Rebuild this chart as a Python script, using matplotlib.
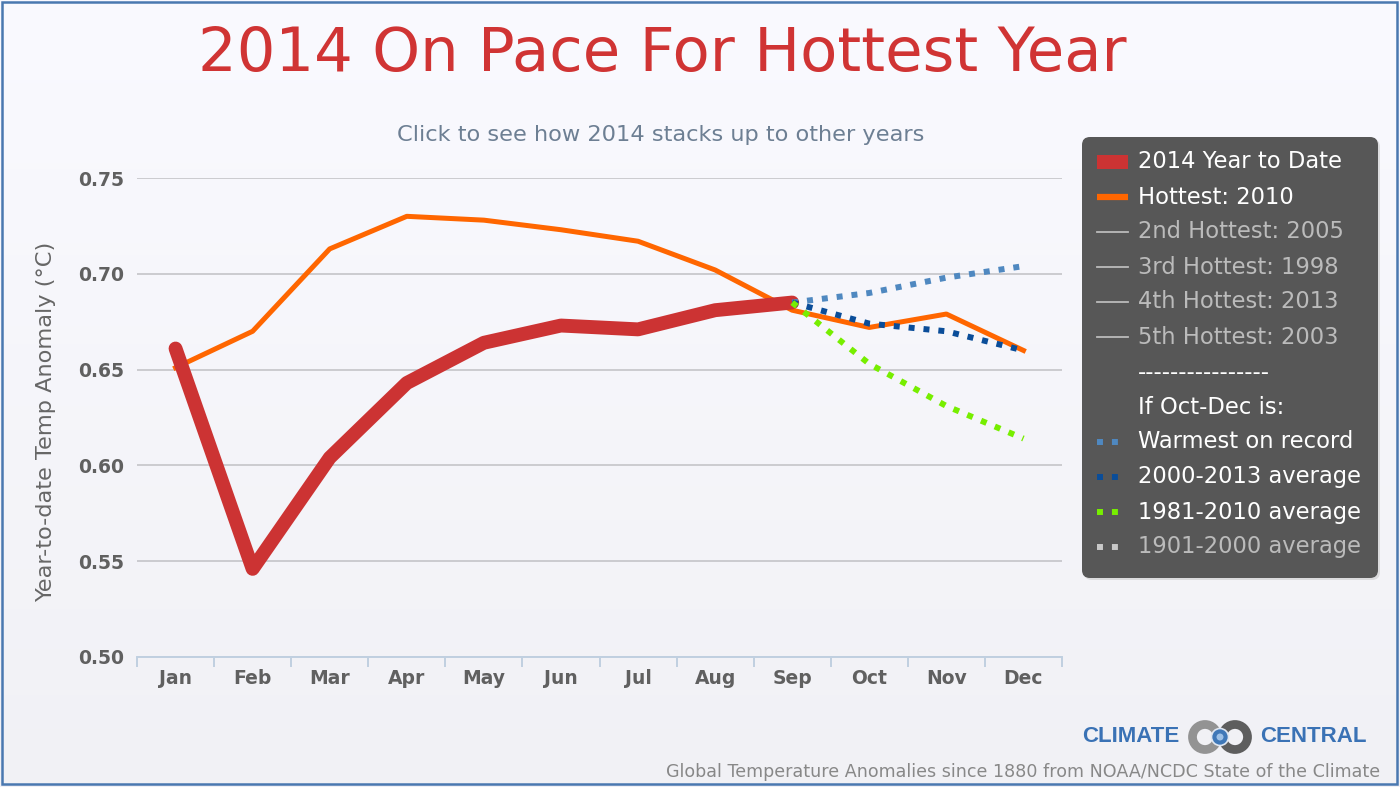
import numpy as np
import matplotlib.pyplot as plt
from matplotlib.patches import FancyBboxPatch, Rectangle, Circle

months = ['Jan', 'Feb', 'Mar', 'Apr', 'May', 'Jun', 'Jul', 'Aug', 'Sep', 'Oct', 'Nov', 'Dec']
ytd_2014 = [0.661, 0.546, 0.604, 0.643, 0.664, 0.673, 0.671, 0.681, 0.685]
hottest_2010 = [0.651, 0.670, 0.713, 0.730, 0.728, 0.723, 0.717, 0.702, 0.681, 0.672, 0.679, 0.660]
# projections Sep-Dec
proj_months = ['Sep', 'Oct', 'Nov', 'Dec']
warmest_record = [0.685, 0.690, 0.698, 0.704]
avg_2000_2013 = [0.685, 0.674, 0.670, 0.660]
avg_1981_2010 = [0.685, 0.653, 0.631, 0.614]

legend_labels = ['2014 Year to Date', 'Hottest: 2010', '2nd Hottest: 2005', '3rd Hottest: 1998',
                 '4th Hottest: 2013', '5th Hottest: 2003', '----------------', 'If Oct-Dec is:',
                 'Warmest on record', '2000-2013 average', '1981-2010 average', '1901-2000 average']

RED = '#cc3333'
ORANGE = '#ff6600'
LIGHTBLUE = '#4f88c0'
DARKBLUE = '#0a4d99'
GREEN = '#77ee00'
GREY = '#bbbbbb'
DOTS = (0, (1, 1.5))

fig = plt.figure(figsize=(14, 7.87), dpi=100)

# background gradient
bg = fig.add_axes([0, 0, 1, 1], zorder=0)
grad = np.linspace(0, 1, 256).reshape(-1, 1)
top = np.array([0.980, 0.980, 1.0])
bot = np.array([0.945, 0.945, 0.962])
img = top + (bot - top) * grad[..., None]
bg.imshow(img.reshape(256, 1, 3), aspect='auto', extent=[0, 1, 0, 1])
bg.axis('off')

W, H = 1400, 787
ax = fig.add_axes([137 / W, 1 - 657 / H, 925 / W, 479 / H], zorder=1)
ax.patch.set_alpha(0)

x = np.arange(len(months))
idx = {m: i for i, m in enumerate(months)}
px = [idx[m] for m in proj_months]

ax.plot(x, hottest_2010, color=ORANGE, lw=3.6, solid_joinstyle='round', zorder=3)
ax.plot(x[:len(ytd_2014)], ytd_2014, color=RED, lw=10, solid_capstyle='round',
        solid_joinstyle='round', zorder=4)
ax.plot(px, warmest_record, color=LIGHTBLUE, lw=4.3, ls=DOTS, zorder=5)
ax.plot(px, avg_2000_2013, color=DARKBLUE, lw=4.3, ls=DOTS, zorder=5)
ax.plot(px, avg_1981_2010, color=GREEN, lw=4.3, ls=DOTS, zorder=5)

ax.set_xlim(-0.5, 11.5)
ax.set_ylim(0.5, 0.75)
ax.set_yticks([0.50, 0.55, 0.60, 0.65, 0.70, 0.75])
ax.set_yticklabels(['%.2f' % v for v in [0.50, 0.55, 0.60, 0.65, 0.70, 0.75]])
ax.set_xticks(x)
ax.set_xticklabels(months)
ax.set_xticks(np.arange(-0.5, 12, 1), minor=True)
ax.grid(axis='y', color='#c4c4c8', lw=1.2)
ax.set_axisbelow(True)
for s in ['left', 'top', 'right']:
    ax.spines[s].set_visible(False)
ax.spines['bottom'].set_color('#c0d0e0')
ax.spines['bottom'].set_linewidth(1.4)
ax.tick_params(axis='y', length=0, pad=9, labelsize=13.5, labelcolor='#606060')
ax.tick_params(axis='x', which='major', length=0, pad=9, labelsize=13.5, labelcolor='#606060')
ax.tick_params(axis='x', which='minor', length=7, width=1.4, color='#c0d0e0')
for lab in ax.get_xticklabels() + ax.get_yticklabels():
    lab.set_fontweight('bold')
ax.set_ylabel('Year-to-date Temp Anomaly (°C)', fontsize=16.2, color='#666666')
ax.yaxis.set_label_coords(-0.087, 0.49)

# overlay in pixel coordinates
ov = fig.add_axes([0, 0, 1, 1], zorder=2)
ov.set_xlim(0, W)
ov.set_ylim(H, 0)
ov.axis('off')
ov.patch.set_alpha(0)

ov.text(662, 55, '2014 On Pace For Hottest Year', color='#d03434', fontsize=43.8,
        ha='center', va='center')
ov.text(661, 135, 'Click to see how 2014 stacks up to other years', color='#6d7f93',
        fontsize=16.2, ha='center', va='center')

# legend box
ov.add_patch(FancyBboxPatch((1084, 139), 296, 441, boxstyle='round,pad=0,rounding_size=8',
                            fc='#cccccc', ec='none', alpha=0.6))
ov.add_patch(FancyBboxPatch((1082, 137), 296, 441, boxstyle='round,pad=0,rounding_size=8',
                            fc='#575757', ec='none'))
rows = [162 + 35 * i for i in range(12)]
text_cols = ['#ffffff', '#ffffff', GREY, GREY, GREY, GREY, '#ffffff', '#ffffff',
             '#ffffff', '#ffffff', '#ffffff', GREY]
for lab, yy, c in zip(legend_labels, rows, text_cols):
    ov.text(1138, yy, lab, color=c, fontsize=16.3, ha='left', va='center')
ov.add_patch(Rectangle((1097, rows[0] - 7), 31, 14, fc=RED, ec='none'))
ov.plot([1097, 1128], [rows[1], rows[1]], color=ORANGE, lw=4.5, solid_capstyle='butt')
for yy in rows[2:6]:
    ov.plot([1097, 1128], [yy, yy], color=GREY, lw=1.3)
for yy, c in zip(rows[8:], [LIGHTBLUE, DARKBLUE, GREEN, '#c8c8c8']):
    ov.plot([1097, 1121], [yy, yy], color=c, lw=4.3, ls=DOTS)

# logo
ov.text(1131, 737, 'CLIMATE', color='#3a72b5', fontsize=16, fontweight='bold',
        family='Liberation Sans', ha='center', va='center')
ov.text(1313, 737, 'CENTRAL', color='#3a72b5', fontsize=16, fontweight='bold',
        family='Liberation Sans', ha='center', va='center')
ov.add_patch(Circle((1235, 737), 12.5, fc='none', ec='#5e5e5e', lw=6.3))
ov.add_patch(Circle((1205, 737), 12.5, fc='none', ec='#939393', lw=6.3))
ov.add_patch(Circle((1220, 737), 8.5, fc='#3f78b8', ec='#dfe6f0', lw=1.2))
ov.add_patch(Circle((1220, 737), 3.5, fc='#9cc0e6', ec='none'))

ov.text(1380, 772, 'Global Temperature Anomalies since 1880 from NOAA/NCDC State of the Climate',
        color='#888888', fontsize=12.6, ha='right', va='center')

# frame
ov.add_patch(Rectangle((1.5, 1.5), 1395, 782, fc='none', ec='#4a78b0', lw=1.8))

fig.savefig('out.png', dpi=100)
